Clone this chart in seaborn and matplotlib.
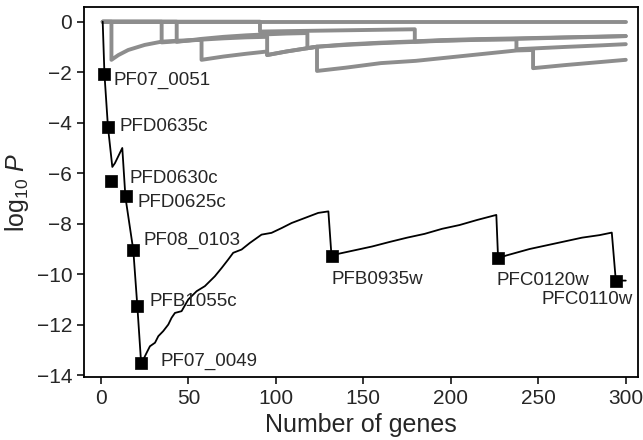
import numpy as np
import pandas as pd
import seaborn as sns
import matplotlib.pyplot as plt

# Gray background curves (other gene sets)
g0_x = [1, 300]
g0_y = [0, 0]
g1_x = [1, 6, 6, 10, 15.6, 25, 34.7, 45, 57.5, 57.5, 70, 83, 95, 95, 106, 118, 123.5, 123.5,
        140, 160, 180, 194, 215, 237.5, 247, 247, 265, 285, 300]
g1_y = [0, 0, -1.51, -1.32, -1.12, -0.92, -0.79, -0.75, -0.72, -1.51, -1.38, -1.27, -1.18, -1.32,
        -1.18, -1.05, -0.99, -1.95, -1.82, -1.64, -1.55, -1.45, -1.30, -1.14, -1.12, -1.84, -1.72,
        -1.60, -1.51]
g2_x = [1, 34.7, 34.7, 45, 57.5, 70, 83, 95, 95, 106, 118, 123.5, 140, 160, 179, 194, 215,
        237.5, 237.5, 247, 265, 285, 300]
g2_y = [0, 0, -0.82, -0.77, -0.71, -0.66, -0.62, -0.60, -1.32, -1.18, -1.05, -0.99, -0.92,
        -0.85, -0.80, -0.76, -0.72, -0.70, -1.09, -1.06, -1.0, -0.94, -0.89]
g3_x = [1, 43.3, 43.3, 57.5, 70, 83, 95, 106, 118, 118, 123.5, 140, 160, 179, 194, 215, 237.5,
        265, 285, 300]
g3_y = [0, 0, -0.80, -0.68, -0.60, -0.54, -0.50, -0.47, -0.45, -1.05, -0.99, -0.90, -0.83,
        -0.78, -0.73, -0.69, -0.66, -0.62, -0.59, -0.57]
g4_x = [1, 90.9, 90.9, 120, 150, 179.4, 179.4, 194, 215, 237.5, 265, 285, 300]
g4_y = [0, 0, -0.39, -0.36, -0.33, -0.30, -0.79, -0.75, -0.71, -0.68, -0.63, -0.60, -0.57]

# Main curve (black)
main_x = [1, 2, 4, 6.5, 8, 12.2, 14, 18.5, 20.8, 23,
          26.1, 28, 30.9, 32.8, 35.6, 38.5, 40.4, 42.3, 46.1, 49.9, 54.7, 59.4, 65.1, 69,
          72.7, 75.6, 80.4, 85.1, 91.8, 97.5, 103.3, 109, 116.6, 124.2, 130, 131.8,
          135, 145, 155, 165, 175, 185, 195, 205, 215, 226, 227,
          232, 245, 255, 265, 275, 285, 292, 294.3, 300]
main_y = [0, -2.07, -4.16, -5.75, -5.6, -5.0, -6.95, -9.05, -11.26, -13.55,
          -13.11, -12.85, -12.71, -12.45, -12.25, -11.99, -11.72, -11.53, -11.46, -11.0, -10.67,
          -10.47, -10.08, -9.75, -9.42, -9.15, -9.02, -8.76, -8.43, -8.36, -8.17, -7.97, -7.77,
          -7.57, -7.51, -9.29,
          -9.2, -9.05, -8.9, -8.72, -8.55, -8.4, -8.2, -8.05, -7.85, -7.65, -9.36,
          -9.25, -9.0, -8.85, -8.7, -8.55, -8.45, -8.35, -10.25, -10.25]

# Labelled genes
genes = ["PF07_0051", "PFD0635c", "PFD0630c", "PFD0625c", "PF08_0103", "PFB1055c",
         "PF07_0049", "PFB0935w", "PFC0120w", "PFC0110w"]
gene_x = [1.9, 3.9, 5.7, 14.1, 18.5, 20.8, 22.9, 131.8, 226.9, 294.3]
gene_y = [-2.07, -4.15, -6.32, -6.89, -9.05, -11.26, -13.5, -9.29, -9.34, -10.25]
# label offsets (pixels) and alignment
label_dx = [9, 12, 19, 12, 10, 12, 19, 0, -1, 17]
label_dy = [-6, 0, 3, -7, 10, 5, 1, -23, -23, -19]
label_ha = ["left"] * 9 + ["right"]

gray = pd.concat([
    pd.DataFrame({"x": gx, "y": gy, "line": i})
    for i, (gx, gy) in enumerate([(g0_x, g0_y), (g1_x, g1_y), (g2_x, g2_y),
                                  (g3_x, g3_y), (g4_x, g4_y)])
])
main_df = pd.DataFrame({"x": main_x, "y": main_y})
gene_df = pd.DataFrame({"gene": genes, "x": gene_x, "y": gene_y})

sns.set_style("ticks")
plt.rcParams["font.family"] = ["Liberation Sans", "DejaVu Sans"]
plt.rcParams["mathtext.fontset"] = "custom"
plt.rcParams["mathtext.rm"] = "Liberation Sans"
plt.rcParams["mathtext.it"] = "Liberation Sans:italic"

fig = plt.figure(figsize=(6.43, 4.40), dpi=100)
ax = fig.add_axes([0.1306, 0.143, 0.8614, 0.841])

sns.lineplot(data=gray, x="x", y="y", units="line", estimator=None, sort=False,
             color="#8d8d8d", linewidth=2.8, ax=ax, legend=False)
sns.lineplot(data=main_df, x="x", y="y", sort=False, estimator=None,
             color="black", linewidth=1.3, ax=ax)
sns.scatterplot(data=gene_df, x="x", y="y", marker="s", s=70, color="black",
                edgecolor="black", linewidth=0.5, ax=ax, zorder=5)

for i, row in gene_df.iterrows():
    ax.annotate(row["gene"], (row["x"], row["y"]), xytext=(label_dx[i], label_dy[i]),
                textcoords="offset pixels", ha=label_ha[i], va="center", fontsize=13.5)

ax.set_xlim(-9.7, 306.9)
ax.set_ylim(-14.07, 0.58)
ax.set_xticks([0, 50, 100, 150, 200, 250, 300])
ax.set_yticks([0, -2, -4, -6, -8, -10, -12, -14])
ax.set_yticklabels(["0", "\u22122", "\u22124", "\u22126", "\u22128", "\u221210", "\u221212", "\u221214"])
ax.tick_params(labelsize=15, length=5, width=1.1, color="black")
ax.set_xlabel("Number of genes", fontsize=18)
ax.set_ylabel(r"$\mathrm{log}_{10}\ \mathit{P}$", fontsize=18)
for sp in ax.spines.values():
    sp.set_visible(True)
    sp.set_linewidth(1.3)
    sp.set_color("black")

plt.savefig("out.png", dpi=100)
plt.close()
